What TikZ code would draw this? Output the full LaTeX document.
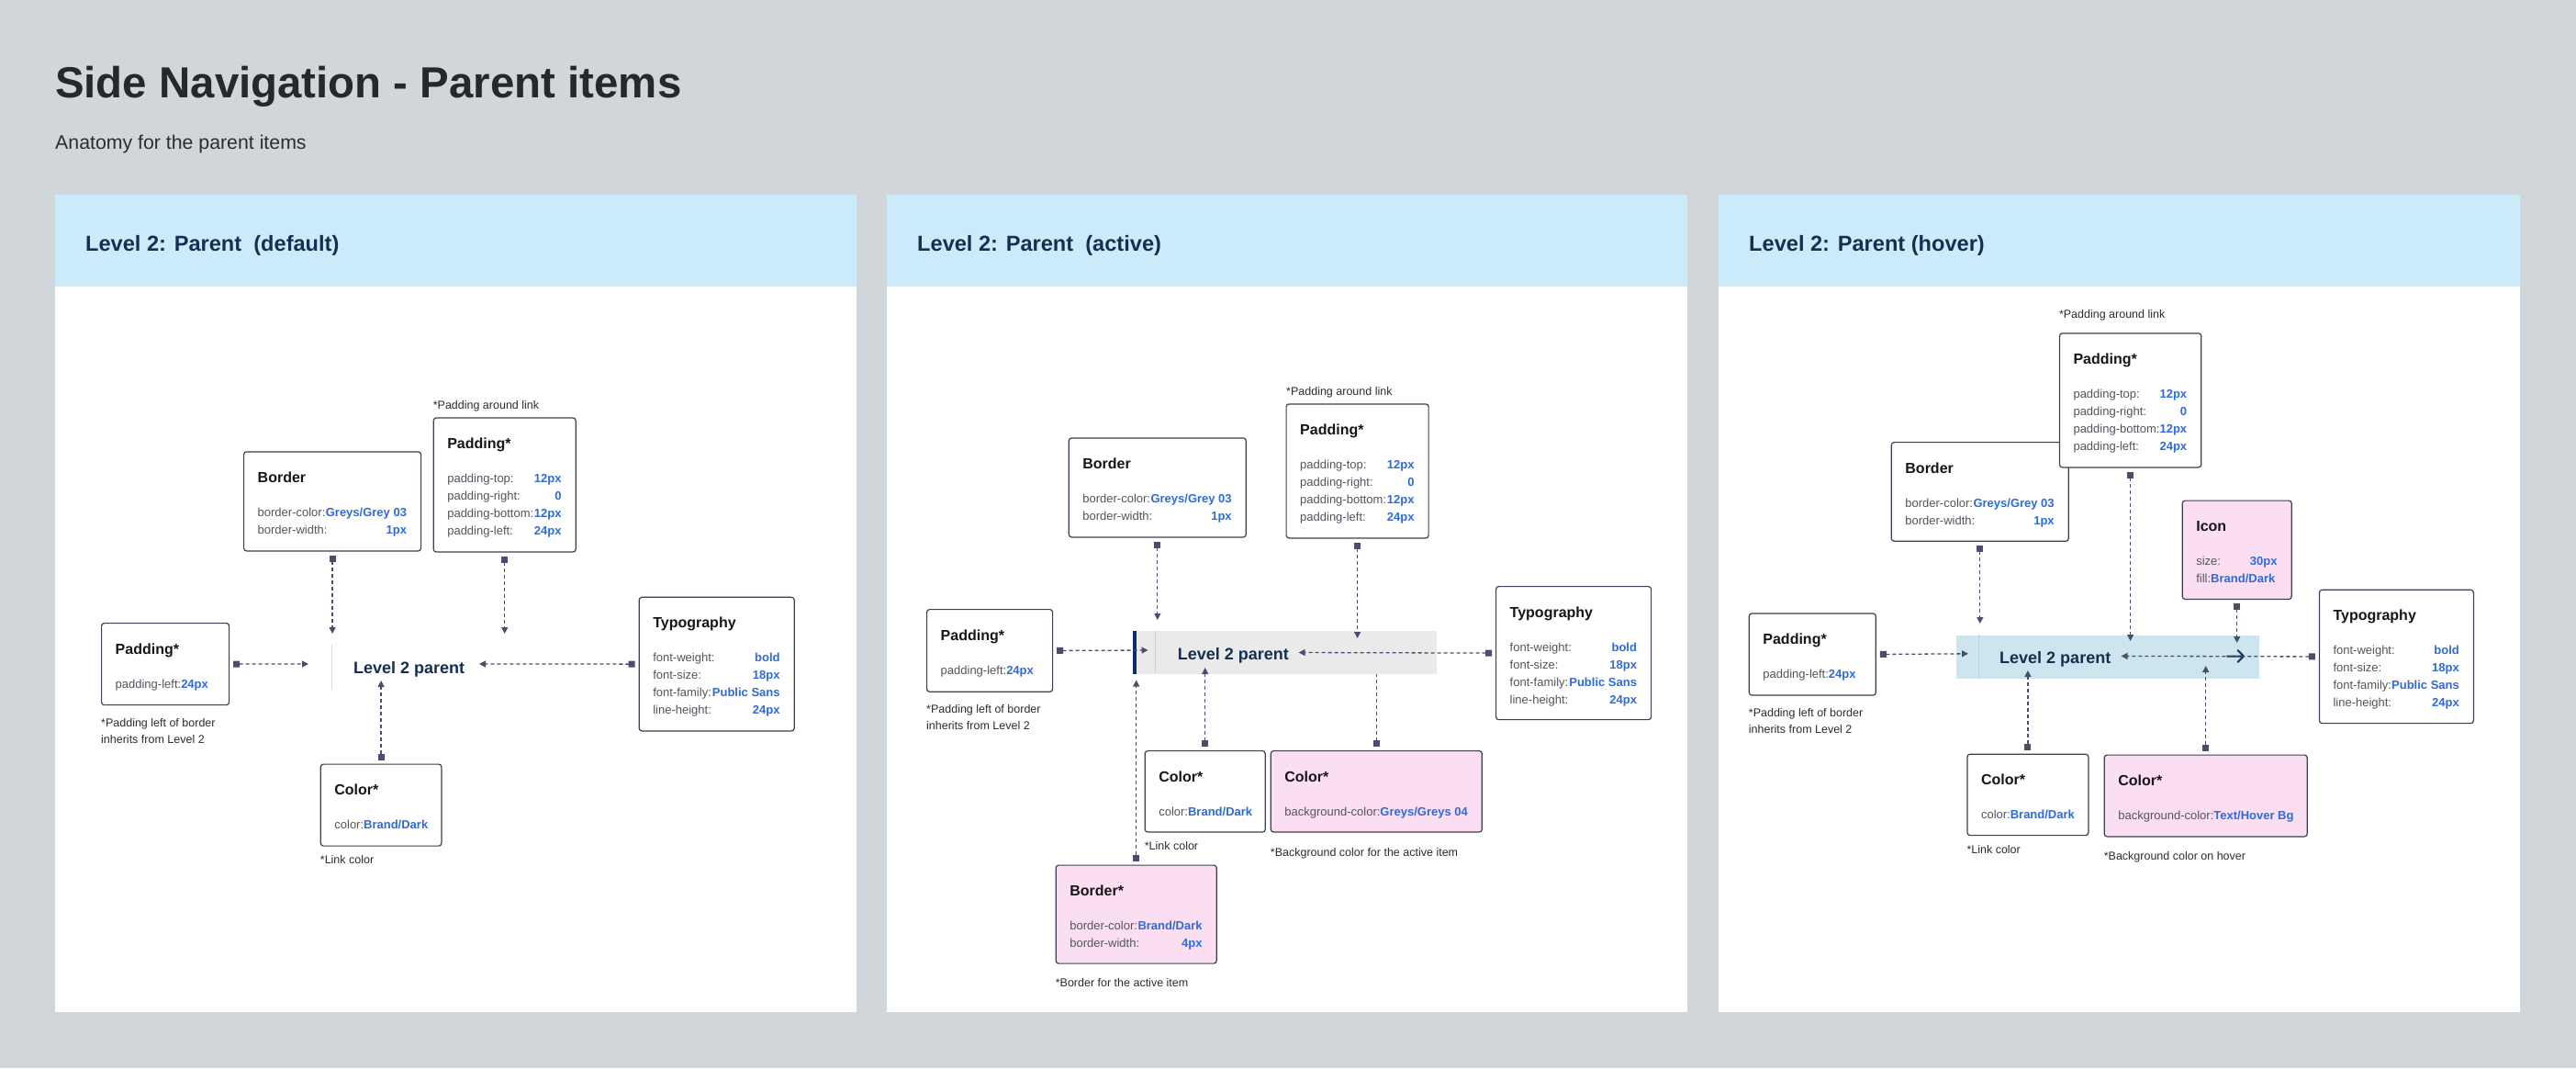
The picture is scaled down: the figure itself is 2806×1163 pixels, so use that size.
\documentclass[tikz,border=0pt]{standalone}
\usepackage{fontspec}
\setmainfont{Liberation Sans}
\usetikzlibrary{arrows.meta,calc}

\definecolor{pagebg}{HTML}{D1D6DB}
\definecolor{headbg}{HTML}{CCEBFA}
\definecolor{boxline}{HTML}{3D3F52}
\definecolor{titleink}{HTML}{161616}
\definecolor{mainink}{HTML}{24292E}
\definecolor{labelink}{HTML}{50555E}
\definecolor{noteink}{HTML}{2A2D31}
\definecolor{valueblue}{HTML}{2F6BD8}
\definecolor{navy}{HTML}{162E51}
\definecolor{connink}{HTML}{4B4D6E}
\definecolor{pinkfill}{HTML}{FBDEF2}
\definecolor{activebg}{HTML}{EAEAEA}
\definecolor{activeline}{HTML}{D2D2D2}
\definecolor{hoverbg}{HTML}{CDE5EE}
\definecolor{hoverline}{HTML}{B5D2DD}
\definecolor{activebar}{HTML}{10296B}
\definecolor{itemline}{HTML}{D9D9D9}

\newcommand{\txtsize}[1]{\fontsize{#1}{#1}\selectfont}

\tikzset{
  panel/.style={fill=white, draw=none},
  header/.style={fill=headbg, draw=none},
  card/.style={draw=boxline, line width=1.2pt, rounded corners=3pt, fill=white,
    anchor=north west, inner sep=0pt},
  pinkcard/.style={card, fill=pinkfill},
  cardtitle/.style={anchor=base west, inner sep=0pt, font=\txtsize{16}\bfseries, text=titleink},
  rowlabel/.style={anchor=base west, inner sep=0pt, font=\txtsize{13}, text=labelink},
  rowvalue/.style={anchor=base east, inner sep=0pt, font=\txtsize{13}\bfseries, text=valueblue},
  note/.style={anchor=base west, inner sep=0pt, font=\txtsize{12.5}, text=noteink},
  linktext/.style={anchor=base west, inner sep=0pt, font=\txtsize{18}\bfseries, text=navy},
  headtext/.style={anchor=base west, inner sep=0pt, font=\txtsize{23.6}\bfseries, text=navy},
  itembar/.style={anchor=north west, inner sep=0pt, draw=none},
  conn/.style={draw=connink, line width=1.3pt, dash pattern=on 4pt off 3pt,
    arrows={Square[length=7pt,width=7pt]-Triangle[length=7pt,width=7pt]}, shorten <=4pt},
  connplain/.style={draw=connink, line width=1.3pt, dash pattern=on 4pt off 3pt,
    arrows={Square[length=7pt,width=7pt]-}, shorten <=4pt},
}

% card: name, style, x, y, width, height, title
\newcommand{\cardbox}[7]{%
  \node[#2, minimum width=#5pt, minimum height=#6pt] (#1) at (#3,#4) {};
  \node[cardtitle] (#1-t) at ($(#1.north west)+(15.5,34)$) {#7};
}
% row with the value pushed to the right edge
\newcommand{\cardrow}[4]{%
  \node[rowlabel] (#1-l#2) at ($(#1.north west)+(15.5,52+19*#2)$) {#3};
  \node[rowvalue] (#1-v#2) at ($(#1.north east)+(-16,52+19*#2)$) {#4};
}
% row with the value right after its label
\newcommand{\cardline}[4]{%
  \node[rowlabel] (#1-l#2) at ($(#1.north west)+(15.5,52+19*#2)$)
    {#3\textcolor{valueblue}{\bfseries #4}};
}

\begin{document}
\begin{tikzpicture}[x=1pt,y=-1pt]
  % page
  \fill[pagebg] (0,0) rectangle (2806,1163);
  \useasboundingbox (0,0) rectangle (2806,1163);

  \node[anchor=base west, inner sep=0pt, font=\txtsize{47.4}\bfseries, text=mainink]
    (title) at (60,106.5) {Side Navigation - Parent items};
  \node[anchor=base west, inner sep=0pt, font=\txtsize{21.3}, text=noteink]
    (subtitle) at (60,162) {Anatomy for the parent items};

  % panels
  \fill[panel] (60,212) rectangle (933,1102);
  \fill[header] (60,212) rectangle (933,312);
  \fill[panel] (966,212) rectangle (1838,1102);
  \fill[header] (966,212) rectangle (1838,312);
  \fill[panel] (1872,212) rectangle (2745,1102);
  \fill[header] (1872,212) rectangle (2745,312);

  \node[headtext] (h1) at (93,273) {Level 2: Parent\ \ (default)};
  \node[headtext] (h2) at (999,273) {Level 2: Parent\ \ (active)};
  \node[headtext] (h3) at (1905,273) {Level 2: Parent (hover)};

  % ---------------- default ----------------
  \draw[itemline, line width=1pt] (361,701) -- (361,751);
  \node[linktext] (p1-link) at (385,733.3) {Level 2 parent};

  \cardbox{p1-border}{card}{265}{491.3}{193}{108}{Border}
  \cardrow{p1-border}{1}{border-color:}{Greys/Grey 03}
  \cardrow{p1-border}{2}{border-width:}{1px}

  \node[note] (p1-padnote) at (471.6,445) {*Padding around link};
  \cardbox{p1-pad}{card}{471.6}{454.4}{155}{146}{Padding*}
  \cardrow{p1-pad}{1}{padding-top:}{12px}
  \cardrow{p1-pad}{2}{padding-right:}{0}
  \cardrow{p1-pad}{3}{padding-bottom:}{12px}
  \cardrow{p1-pad}{4}{padding-left:}{24px}

  \cardbox{p1-padl}{card}{110}{678}{139}{89}{Padding*}
  \cardline{p1-padl}{1}{padding-left:}{24px}
  \node[note] (p1-padlnote1) at (110,791.5) {*Padding left of border};
  \node[note] (p1-padlnote2) at (110,809.5) {inherits from Level 2};

  \cardbox{p1-typo}{card}{695.6}{649.7}{169}{145.6}{Typography}
  \cardrow{p1-typo}{1}{font-weight:}{bold}
  \cardrow{p1-typo}{2}{font-size:}{18px}
  \cardrow{p1-typo}{3}{font-family:}{Public Sans}
  \cardrow{p1-typo}{4}{line-height:}{24px}

  \cardbox{p1-color}{card}{348.7}{831.5}{131.6}{89}{Color*}
  \cardline{p1-color}{1}{color:}{Brand/Dark}
  \node[note] (p1-colornote) at (348.7,940) {*Link color};

  \coordinate (p1-tb) at (362,690);
  \coordinate (p1-tp) at (549,690);
  \coordinate (p1-tl) at (336,723);
  \coordinate (p1-tr) at (522,723);
  \coordinate (p1-tc) at (414.5,741);
  \draw[conn] (p1-border.south) -- (p1-border.south |- p1-tb);
  \draw[conn] (p1-pad.south) -- (p1-pad.south |- p1-tp);
  \draw[conn] (p1-padl.east) -- (p1-tl);
  \draw[conn] (p1-typo.west) -- (p1-tr);
  \draw[conn] (p1-color.north) -- (p1-color.north |- p1-tc);

  % ---------------- active ----------------
  \node[itembar, fill=activebg, minimum width=327.4pt, minimum height=47pt]
    (p2-bar) at (1237.4,687) {};
  \node[itembar, fill=activebar, minimum width=4pt, minimum height=47pt]
    (p2-edge) at (1234,687) {};
  \draw[activeline, line width=1pt] (1258.3,687) -- (1258.3,734);
  \node[linktext] (p2-link) at (1282.7,718.3) {Level 2 parent};

  \cardbox{p2-border}{card}{1163.7}{476.3}{193}{108}{Border}
  \cardrow{p2-border}{1}{border-color:}{Greys/Grey 03}
  \cardrow{p2-border}{2}{border-width:}{1px}

  \node[note] (p2-padnote) at (1401,430.5) {*Padding around link};
  \cardbox{p2-pad}{card}{1400.5}{439.3}{155}{146}{Padding*}
  \cardrow{p2-pad}{1}{padding-top:}{12px}
  \cardrow{p2-pad}{2}{padding-right:}{0}
  \cardrow{p2-pad}{3}{padding-bottom:}{12px}
  \cardrow{p2-pad}{4}{padding-left:}{24px}

  \cardbox{p2-padl}{card}{1009}{663}{137}{89.7}{Padding*}
  \cardline{p2-padl}{1}{padding-left:}{24px}
  \node[note] (p2-padlnote1) at (1009,776) {*Padding left of border};
  \node[note] (p2-padlnote2) at (1009,794) {inherits from Level 2};

  \cardbox{p2-typo}{card}{1629}{638}{169}{145}{Typography}
  \cardrow{p2-typo}{1}{font-weight:}{bold}
  \cardrow{p2-typo}{2}{font-size:}{18px}
  \cardrow{p2-typo}{3}{font-family:}{Public Sans}
  \cardrow{p2-typo}{4}{line-height:}{24px}

  \cardbox{p2-color}{card}{1246.6}{817}{131}{88.4}{Color*}
  \cardline{p2-color}{1}{color:}{Brand/Dark}
  \node[note] (p2-colornote) at (1246.6,925) {*Link color};

  \cardbox{p2-bg}{pinkcard}{1383.7}{817}{230}{88.4}{Color*}
  \cardline{p2-bg}{1}{background-color:}{Greys/Greys 04}
  \node[note] (p2-bgnote) at (1383.7,932.5) {*Background color for the active item};

  \cardbox{p2-bord}{pinkcard}{1149.6}{941.5}{175}{107}{Border*}
  \cardrow{p2-bord}{1}{border-color:}{Brand/Dark}
  \cardrow{p2-bord}{2}{border-width:}{4px}
  \node[note] (p2-bordnote) at (1149.6,1074) {*Border for the active item};

  \coordinate (p2-tb) at (1260,675);
  \coordinate (p2-tp) at (1477.5,695);
  \coordinate (p2-tl) at (1250.5,708);
  \coordinate (p2-tr) at (1414.6,710.5);
  \coordinate (p2-tc) at (1312.7,727);
  \coordinate (p2-te) at (1236.9,740.5);
  \draw[conn] (p2-border.south) -- (p2-border.south |- p2-tb);
  \draw[conn] (p2-pad.south) -- (p2-pad.south |- p2-tp);
  \draw[conn] (p2-padl.east) -- (p2-tl);
  \draw[conn] (p2-typo.west) -- (p2-tr);
  \draw[conn] (p2-color.north) -- (p2-color.north |- p2-tc);
  \draw[connplain] (p2-bg.north) -- (p2-bg.north |- p2-bar.south);
  \draw[conn] (p2-bord.north) -- (p2-bord.north |- p2-te);

  % ---------------- hover ----------------
  \node[itembar, fill=hoverbg, minimum width=330.1pt, minimum height=47.2pt]
    (p3-bar) at (2130.9,691.4) {};
  \draw[hoverline, line width=1pt] (2155.7,691.4) -- (2155.7,738.6);
  \node[linktext] (p3-link) at (2178,722.3) {Level 2 parent};
  \coordinate (p3-arrowtail) at (2426,714.5);
  \coordinate (p3-arrowhead) at (2444,714.5);
  \draw[navy, line width=2pt, line cap=round, line join=round]
    (p3-arrowtail) -- (p3-arrowhead)
    (2437.5,708) -- (p3-arrowhead) -- (2437.5,721);

  \cardbox{p3-border}{card}{2059.7}{481}{193}{107.7}{Border}
  \cardrow{p3-border}{1}{border-color:}{Greys/Grey 03}
  \cardrow{p3-border}{2}{border-width:}{1px}

  \node[note] (p3-padnote) at (2242.8,346) {*Padding around link};
  \cardbox{p3-pad}{card}{2242.8}{362.3}{154.4}{146}{Padding*}
  \cardrow{p3-pad}{1}{padding-top:}{12px}
  \cardrow{p3-pad}{2}{padding-right:}{0}
  \cardrow{p3-pad}{3}{padding-bottom:}{12px}
  \cardrow{p3-pad}{4}{padding-left:}{24px}

  \cardbox{p3-icon}{pinkcard}{2376.6}{544.5}{119}{107.4}{Icon}
  \cardrow{p3-icon}{1}{size:}{30px}
  \cardline{p3-icon}{2}{fill:}{Brand/Dark}

  \cardbox{p3-padl}{card}{1904.7}{667.4}{138}{89}{Padding*}
  \cardline{p3-padl}{1}{padding-left:}{24px}
  \node[note] (p3-padlnote1) at (1904.7,780) {*Padding left of border};
  \node[note] (p3-padlnote2) at (1904.7,798) {inherits from Level 2};

  \cardbox{p3-typo}{card}{2525.8}{641.7}{168}{145.3}{Typography}
  \cardrow{p3-typo}{1}{font-weight:}{bold}
  \cardrow{p3-typo}{2}{font-size:}{18px}
  \cardrow{p3-typo}{3}{font-family:}{Public Sans}
  \cardrow{p3-typo}{4}{line-height:}{24px}

  \cardbox{p3-color}{card}{2142.3}{820.6}{132}{88.4}{Color*}
  \cardline{p3-color}{1}{color:}{Brand/Dark}
  \node[note] (p3-colornote) at (2142.3,929) {*Link color};

  \cardbox{p3-bg}{pinkcard}{2291.6}{821.5}{221}{88.8}{Color*}
  \cardline{p3-bg}{1}{background-color:}{Text/Hover Bg}
  \node[note] (p3-bgnote) at (2291.6,936) {*Background color on hover};

  \coordinate (p3-tb) at (2156,679);
  \coordinate (p3-tp) at (2320.3,698);
  \coordinate (p3-ti) at (2435.7,700);
  \coordinate (p3-tl) at (2144,711.8);
  \coordinate (p3-tr) at (2310.5,714.4);
  \coordinate (p3-tc) at (2208.4,730);
  \coordinate (p3-tg) at (2401.8,725);
  \draw[conn] (p3-border.south) -- (p3-border.south |- p3-tb);
  \draw[conn] (p3-pad.south) -- (p3-pad.south |- p3-tp);
  \draw[conn] (p3-icon.south) -- (p3-icon.south |- p3-ti);
  \draw[conn] (p3-padl.east) -- (p3-tl);
  \draw[conn] (p3-typo.west) -- (p3-tr);
  \draw[conn] (p3-color.north) -- (p3-color.north |- p3-tc);
  \draw[conn] (p3-bg.north) -- (p3-bg.north |- p3-tg);
\end{tikzpicture}
\end{document}
